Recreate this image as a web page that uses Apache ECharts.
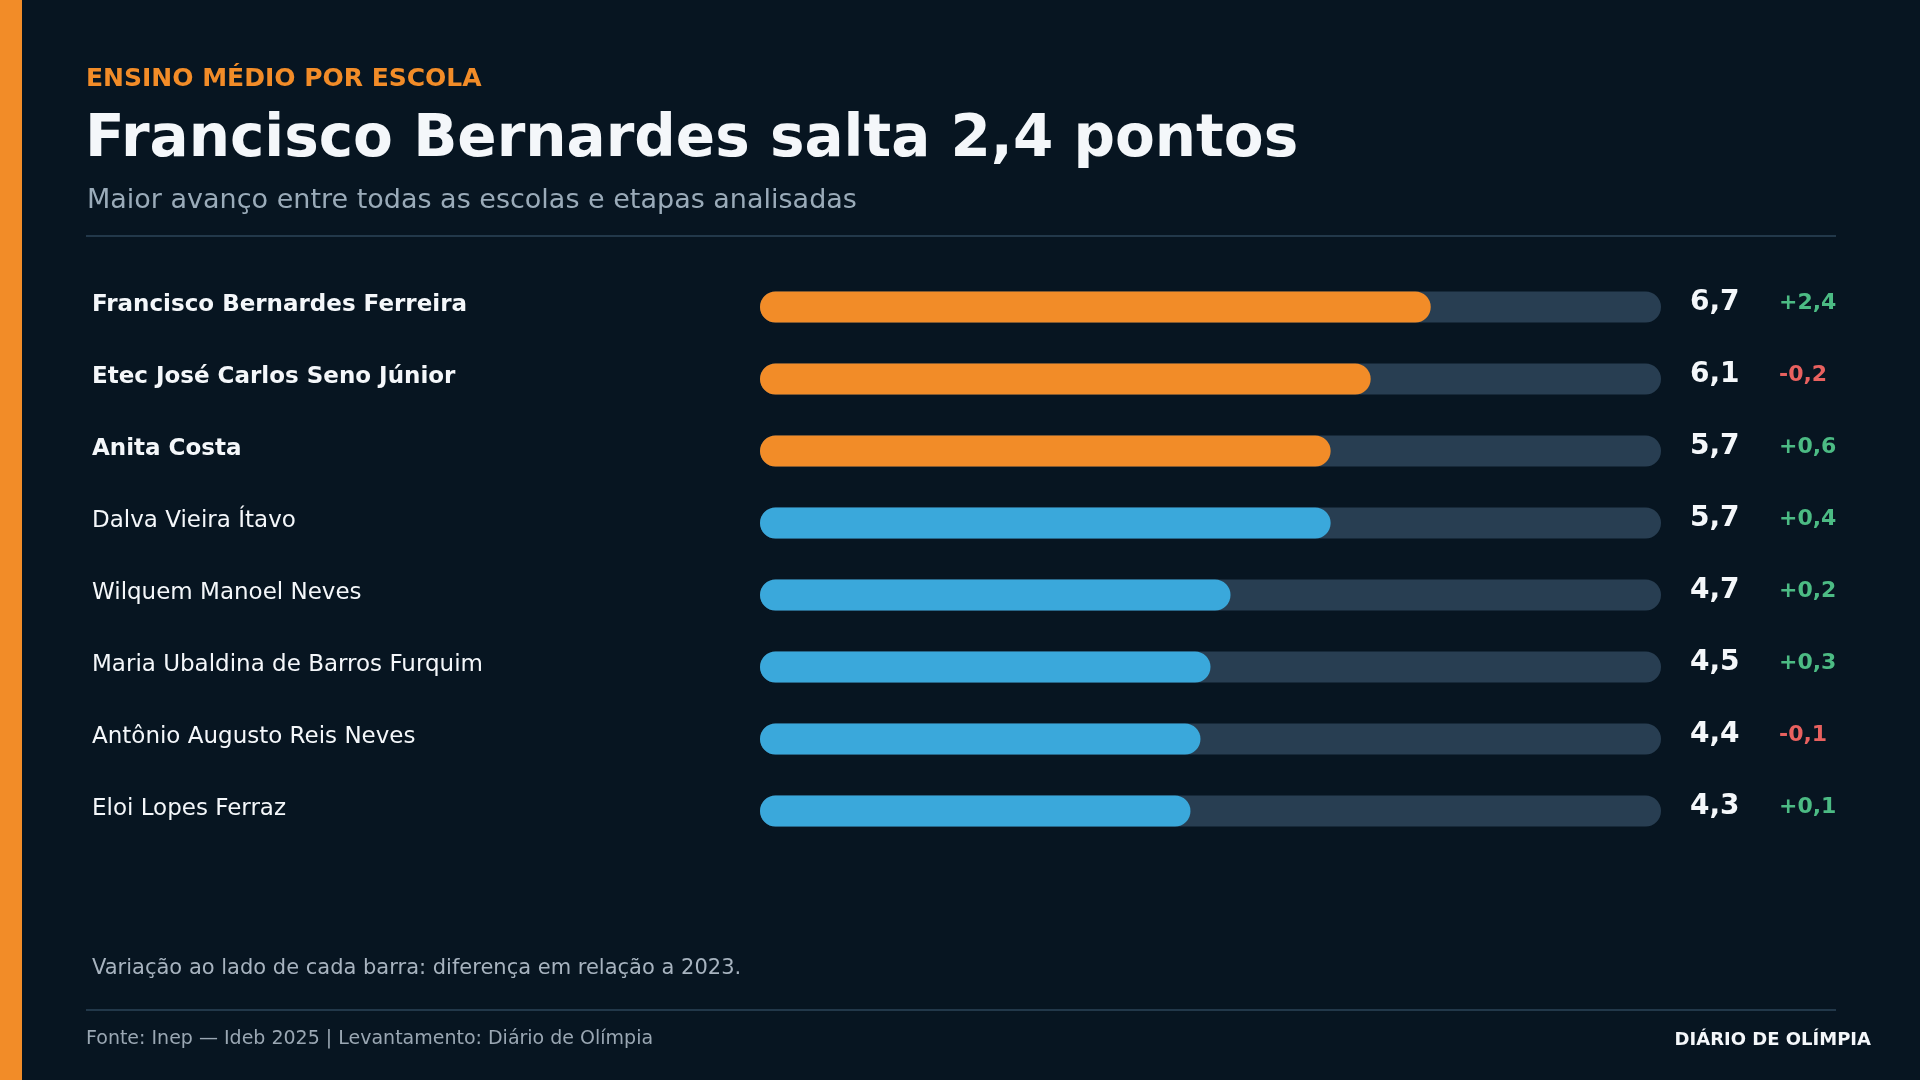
<!DOCTYPE html>
<html>
<head>
<meta charset="utf-8">
<script src="https://cdn.jsdelivr.net/npm/echarts@6/dist/echarts.min.js"></script>
<style>
  html, body { margin: 0; padding: 0; background: #071521; }
  #chart { width: 1920px; height: 1080px; }
</style>
</head>
<body>
<div id="chart"></div>
<script>
// dados
var escolas = ['Francisco Bernardes Ferreira', 'Etec José Carlos Seno Júnior', 'Anita Costa', 'Dalva Vieira Ítavo',
	'Wilquem Manoel Neves', 'Maria Ubaldina de Barros Furquim', 'Antônio Augusto Reis Neves', 'Eloi Lopes Ferraz'];
var notas2025 = [6.7, 6.1, 5.7, 5.7, 4.7, 4.5, 4.4, 4.3];
var variacao = [2.4, -0.2, 0.6, 0.4, 0.2, 0.3, -0.1, 0.1];
var destaque = [true, true, true, false, false, false, false, false];
var escalaMax = 9;

var FONTE = '"DejaVu Sans", "Noto Sans", sans-serif';

function fmt(v) {
	return v.toFixed(1).replace('.', ',');
}
function fmtVar(v) {
	return (v > 0 ? '+' : '') + fmt(v);
}

var trilho = [];
var barras = [];
for (var i = 0; i < escolas.length; i++) {
	trilho.push(escalaMax);
	barras.push({
		value: notas2025[i],
		itemStyle: { color: destaque[i] ? '#f28c28' : '#3aa8db' }
	});
}

var chart = echarts.init(document.getElementById('chart'));

var option = {
	backgroundColor: '#071521',
	animation: false,
	grid: { left: 760, right: 259, top: 271, bottom: 233 },
	xAxis: {
		type: 'value', min: 0, max: escalaMax,
		show: false
	},
	yAxis: {
		type: 'category',
		data: escolas,
		inverse: true,
		axisLine: { show: false },
		axisTick: { show: false },
		splitLine: { show: false },
		axisLabel: {
			align: 'left',
			margin: 668,
			formatter: function(val, idx) {
				return destaque[idx] ? '{b|' + val + '}' : '{n|' + val + '}';
			},
			rich: {
				b: { fontFamily: FONTE, fontSize: 23, fontWeight: 'bold', color: '#f4f7fa', padding: [0, 0, 4, 0] },
				n: { fontFamily: FONTE, fontSize: 23, color: '#f4f7fa', padding: [0, 0, 4, 0] }
			}
		}
	},
	series: [{
		name: 'trilho',
		type: 'bar',
		data: trilho,
		barWidth: 31,
		barGap: '-100%',
		silent: true,
		itemStyle: { color: '#283e52', borderRadius: 15.5 },
		label: {
			show: true,
			position: 'right',
			distance: 29,
			offset: [0, -4],
			formatter: function(p) {
				var d = variacao[p.dataIndex];
				return '{v|' + fmt(notas2025[p.dataIndex]) + '}{' + (d < 0 ? 'neg' : 'pos') + '|' + fmtVar(d) + '}';
			},
			rich: {
				v: { fontFamily: FONTE, fontSize: 28, fontWeight: 'bold', color: '#f4f7fa', width: 89 },
				pos: { fontFamily: FONTE, fontSize: 22, fontWeight: 'bold', color: '#4cbb84' },
				neg: { fontFamily: FONTE, fontSize: 22, fontWeight: 'bold', color: '#e8615f' }
			}
		}
	}, {
		name: 'nota',
		type: 'bar',
		data: barras,
		barWidth: 31,
		itemStyle: { borderRadius: 15.5 },
		z: 3
	}],
	graphic: [
		{ type: 'rect', left: 0, top: 0, shape: { width: 22, height: 1080 }, style: { fill: '#f28c28' } },
		{ type: 'text', x: 86, y: 79, style: { text: 'ENSINO MÉDIO POR ESCOLA', font: 'bold 25px ' + FONTE, fill: '#f28c28', verticalAlign: 'middle' } },
		{ type: 'text', x: 85, y: 141, style: { text: 'Francisco Bernardes salta 2,4 pontos', font: 'bold 58px ' + FONTE, fill: '#f4f7fa', verticalAlign: 'middle' } },
		{ type: 'text', x: 87, y: 201, style: { text: 'Maior avanço entre todas as escolas e etapas analisadas', font: '27px ' + FONTE, fill: '#9aabb9', verticalAlign: 'middle' } },
		{ type: 'rect', left: 86, top: 235, shape: { width: 1750, height: 2 }, style: { fill: '#22384a' } },
		{ type: 'text', x: 92, y: 969, style: { text: 'Variação ao lado de cada barra: diferença em relação a 2023.', font: '21px ' + FONTE, fill: '#a7b3bf', verticalAlign: 'middle' } },
		{ type: 'rect', left: 86, top: 1009, shape: { width: 1750, height: 2 }, style: { fill: '#22384a' } },
		{ type: 'text', x: 86, y: 1039, style: { text: 'Fonte: Inep — Ideb 2025 | Levantamento: Diário de Olímpia', font: '19px ' + FONTE, fill: '#9aa7b3', verticalAlign: 'middle' } },
		{ type: 'text', x: 1871, y: 1040, style: { text: 'DIÁRIO DE OLÍMPIA', font: 'bold 18px ' + FONTE, fill: '#f4f7fa', align: 'right', verticalAlign: 'middle' } }
	]
};

chart.setOption(option);
</script>
</body>
</html>
